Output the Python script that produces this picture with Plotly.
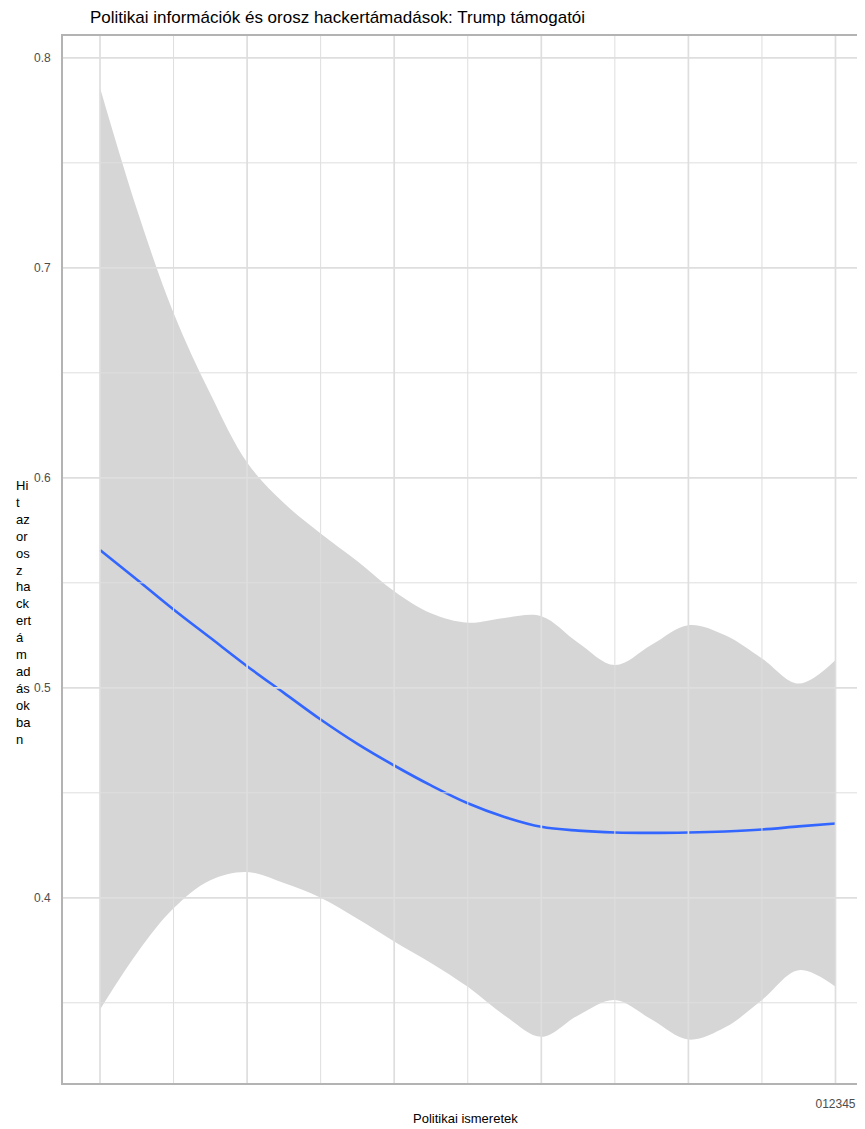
import plotly.graph_objects as go

# ---- data ----
knowledge = [0, 0.25, 0.5, 0.75, 1, 1.25, 1.5, 1.75, 2, 2.25, 2.5,
             2.75, 3, 3.25, 3.5, 3.75, 4, 4.25, 4.5, 4.75, 5]
fit = [0.5656, 0.5516, 0.5373, 0.5238, 0.5103, 0.4976, 0.4849, 0.4733,
       0.4630, 0.4535, 0.4450, 0.4385, 0.4338, 0.4320, 0.4311, 0.4309,
       0.4311, 0.4316, 0.4325, 0.4340, 0.4354]
upper = [0.7858, 0.7280, 0.6785, 0.6400, 0.6073, 0.5880, 0.5735, 0.5603,
         0.5460, 0.5355, 0.5310, 0.5333, 0.5341, 0.5215, 0.5108, 0.5205,
         0.5298, 0.5250, 0.5140, 0.5020, 0.5132]
lower = [0.3468, 0.3735, 0.3950, 0.4084, 0.4123, 0.4070, 0.4000, 0.3900,
         0.3792, 0.3690, 0.3576, 0.3440, 0.3338, 0.3440, 0.3513, 0.3420,
         0.3325, 0.3383, 0.3513, 0.3655, 0.3576]

x_tick_labels = ["0", "1", "2", "3", "4", "5"]
x_tick_vals = [0, 1, 2, 3, 4, 5]
x_minor_vals = [0.5, 1.5, 2.5, 3.5, 4.5]
y_tick_vals = [0.4, 0.5, 0.6, 0.7, 0.8]
y_tick_labels = ["0.4", "0.5", "0.6", "0.7", "0.8"]
y_minor_vals = [0.35, 0.45, 0.55, 0.65, 0.75]

title_text = "Politikai információk és orosz hackertámadások: Trump támogatói"
x_title = "Politikai ismeretek"
y_title_lines = ["Hi", "t", "az", "or", "os", "z", "ha", "ck", "ert", "á",
                 "m", "ad", "ás", "ok", "ba", "n"]

FONT = "Liberation Sans, Arial, sans-serif"
GRID = "#DEDEDE"

fig = go.Figure()
fig.add_trace(go.Scatter(x=knowledge, y=lower, mode="lines",
                         line=dict(width=0, shape="spline", smoothing=1),
                         hoverinfo="skip", showlegend=False))
fig.add_trace(go.Scatter(x=knowledge, y=upper, mode="lines", fill="tonexty",
                         fillcolor="#D6D6D6",
                         line=dict(width=0, shape="spline", smoothing=1),
                         hoverinfo="skip", showlegend=False))
fig.add_trace(go.Scatter(x=knowledge, y=fit, mode="lines",
                         line=dict(color="#3366FF", width=2.6, shape="spline", smoothing=1),
                         showlegend=False))

shapes = []
for v in x_tick_vals:
    shapes.append(dict(type="line", xref="x", yref="paper", x0=v, x1=v, y0=0, y1=1,
                       line=dict(color=GRID, width=1.7), layer="above"))
for v in x_minor_vals:
    shapes.append(dict(type="line", xref="x", yref="paper", x0=v, x1=v, y0=0, y1=1,
                       line=dict(color=GRID, width=1.0), layer="above"))
for v in y_tick_vals:
    shapes.append(dict(type="line", xref="paper", yref="y", x0=0, x1=1, y0=v, y1=v,
                       line=dict(color=GRID, width=1.7), layer="above"))
for v in y_minor_vals:
    shapes.append(dict(type="line", xref="paper", yref="y", x0=0, x1=1, y0=v, y1=v,
                       line=dict(color=GRID, width=1.0), layer="above"))

# the page body offsets the figure by 8px
OFF = 8
W, H = 865, 1129 - OFF
PLOT_BOTTOM = 1083 - OFF          # in figure pixels
PLOT_RIGHT = 873 - OFF            # plot area runs past the window edge
ML, MT = 63 - OFF, 36 - OFF
MR, MB = W - PLOT_RIGHT, H - PLOT_BOTTOM
pw = W - ML - MR
ph = H - MT - MB
x_px = 147.1                      # pixels per unit on x
x_left = -(100 - 63) / x_px
x_right = x_left + pw / x_px

fig.update_layout(
    width=W, height=H,
    margin=dict(l=ML, r=MR, t=MT, b=MB),
    paper_bgcolor="white", plot_bgcolor="white",
    font=dict(family=FONT, color="#000000"),
    shapes=shapes,
    title=dict(text=title_text, x=(90 - OFF) / W, xanchor="left", xref="container",
               y=1 - (17 - OFF) / H, yanchor="middle", yref="container",
               font=dict(size=17, color="#000000", family=FONT)),
    xaxis=dict(range=[x_left, x_right], showgrid=False, zeroline=False,
               tickvals=x_tick_vals,
               ticktext=[""] * (len(x_tick_labels) - 1) + ["".join(x_tick_labels)],
               tickfont=dict(size=12, color="#4D4D4D", family=FONT),
               ticks="", ticklabelstandoff=9,
               showline=True, linecolor="#B3B3B3", linewidth=1.8, mirror=True),
    yaxis=dict(range=[0.3118, 0.8104], showgrid=False, zeroline=False,
               tickvals=y_tick_vals, ticktext=y_tick_labels,
               tickfont=dict(size=12, color="#4D4D4D", family=FONT),
               ticks="", ticklabelstandoff=8,
               showline=True, linecolor="#B3B3B3", linewidth=1.8, mirror=False),
    annotations=[
        dict(text=x_title, xref="paper", yref="paper",
             x=(465 - 63) / pw, y=-(1118 - 1083) / ph,
             xanchor="center", yanchor="middle", showarrow=False,
             font=dict(size=13, color="#000000", family=FONT)),
        dict(text="<br>".join(y_title_lines), xref="paper", yref="paper",
             x=(14 - 63) / pw, y=(1083 - 613) / ph,
             xanchor="left", yanchor="middle", align="left", showarrow=False,
             font=dict(size=13, color="#000000", family=FONT)),
    ],
)

fig.write_html("out.html")
